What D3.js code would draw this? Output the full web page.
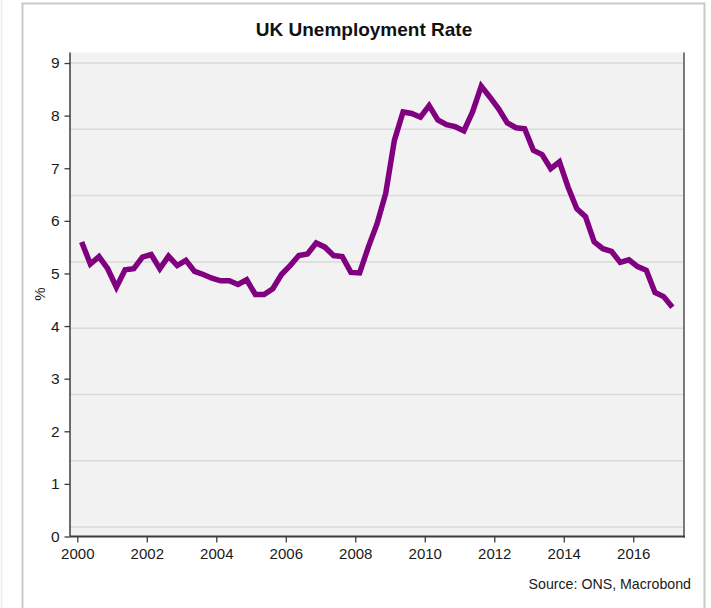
<!DOCTYPE html>
<html>
<head>
<meta charset="utf-8">
<script src="https://cdn.jsdelivr.net/npm/d3@7"></script>
<style>
  html, body { margin: 0; padding: 0; background: #fff; }
  svg { display: block; font-family: "Liberation Sans", Arial, sans-serif; }
</style>
</head>
<body>
<svg id="chart" width="711" height="608"></svg>
<script>
// ---- data ----
const title = "UK Unemployment Rate";
const source = "Source: ONS, Macrobond";
const yLabel = "%";
const quarters = [
  "2000Q1","2000Q2","2000Q3","2000Q4","2001Q1","2001Q2","2001Q3","2001Q4",
  "2002Q1","2002Q2","2002Q3","2002Q4","2003Q1","2003Q2","2003Q3","2003Q4",
  "2004Q1","2004Q2","2004Q3","2004Q4","2005Q1","2005Q2","2005Q3","2005Q4",
  "2006Q1","2006Q2","2006Q3","2006Q4","2007Q1","2007Q2","2007Q3","2007Q4",
  "2008Q1","2008Q2","2008Q3","2008Q4","2009Q1","2009Q2","2009Q3","2009Q4",
  "2010Q1","2010Q2","2010Q3","2010Q4","2011Q1","2011Q2","2011Q3","2011Q4",
  "2012Q1","2012Q2","2012Q3","2012Q4","2013Q1","2013Q2","2013Q3","2013Q4",
  "2014Q1","2014Q2","2014Q3","2014Q4","2015Q1","2015Q2","2015Q3","2015Q4",
  "2016Q1","2016Q2","2016Q3","2016Q4","2017Q1"
];
const unemployment = [
  5.60, 5.18, 5.32, 5.09, 4.74, 5.07, 5.09, 5.31,
  5.36, 5.09, 5.33, 5.15, 5.25, 5.04, 4.98, 4.91,
  4.86, 4.86, 4.79, 4.88, 4.60, 4.60, 4.71, 4.98,
  5.15, 5.34, 5.37, 5.58, 5.50, 5.34, 5.32, 5.02,
  5.01, 5.50, 5.94, 6.52, 7.53, 8.07, 8.04, 7.97,
  8.19, 7.92, 7.83, 7.79, 7.71, 8.07, 8.56, 8.35,
  8.13, 7.86, 7.77, 7.75, 7.34, 7.26, 6.99, 7.12,
  6.64, 6.23, 6.08, 5.60, 5.47, 5.42, 5.21, 5.26,
  5.13, 5.06, 4.64, 4.56, 4.36
];
const yTicks = [0, 1, 2, 3, 4, 5, 6, 7, 8, 9];
const xTicks = [2000, 2002, 2004, 2006, 2008, 2010, 2012, 2014, 2016];
const gridValues = [9, 7.74, 6.48, 5.22, 3.96, 2.70, 1.44, 0.18];

// ---- layout ----
const W = 711, H = 608;
const plot = { left: 70, right: 684, top: 52.5, bottom: 536.5 };

const svg = d3.select("#chart");

// outer frame
svg.append("line").attr("x1", 1.5).attr("x2", 1.5).attr("y1", 0).attr("y2", H)
  .attr("stroke", "#ececec").attr("stroke-width", 1.5);
svg.append("path")
  .attr("d", `M22.5,${H + 5} V3.5 H704.5 V${H + 5}`)
  .attr("fill", "none").attr("stroke", "#cacaca").attr("stroke-width", 2);

// scales
const toYear = q => +q.slice(0, 4) + (+q.slice(5) - 1) * 0.25 + 0.125;
const x = d3.scaleLinear().domain([1999.79, 2017.46]).range([plot.left, plot.right]);
const y = d3.scaleLinear().domain([0, 9.2]).range([plot.bottom, plot.top]);

// plot background
svg.append("rect")
  .attr("x", plot.left).attr("y", plot.top)
  .attr("width", plot.right - plot.left).attr("height", plot.bottom - plot.top)
  .attr("fill", "#f2f2f2");

// gridlines
svg.append("g").selectAll("line").data(gridValues).join("line")
  .attr("x1", plot.left).attr("x2", plot.right)
  .attr("y1", d => y(d)).attr("y2", d => y(d))
  .attr("stroke", "#d9d9d9").attr("stroke-width", 1.5);

// right border
svg.append("line").attr("x1", plot.right).attr("x2", plot.right)
  .attr("y1", plot.top).attr("y2", plot.bottom + 1)
  .attr("stroke", "#7a7a7a").attr("stroke-width", 2);

// y axis
const yAxis = svg.append("g").attr("transform", `translate(${plot.left},0)`)
  .call(d3.axisLeft(y).tickValues(yTicks).tickSize(5.5).tickPadding(5).tickFormat(d3.format("d")));
yAxis.select(".domain").attr("stroke", "#3c3c3c").attr("stroke-width", 1.5)
  .attr("d", `M0,${plot.top}V${plot.bottom}`);
yAxis.selectAll(".tick line").attr("stroke", "#3c3c3c").attr("stroke-width", 1.3);
yAxis.selectAll(".tick text").attr("font-size", 15.5).attr("fill", "#1a1a1a")
  .attr("font-family", "Liberation Sans, Arial, sans-serif");

// x axis
const xAxis = svg.append("g").attr("transform", `translate(0,${plot.bottom})`)
  .call(d3.axisBottom(x).tickValues(xTicks).tickSize(6).tickPadding(6).tickFormat(d3.format("d")));
xAxis.select(".domain").attr("stroke", "#3c3c3c").attr("stroke-width", 2)
  .attr("d", `M${plot.left},0H${plot.right + 1}`);
xAxis.selectAll(".tick line").attr("stroke", "#3c3c3c").attr("stroke-width", 1.3);
xAxis.selectAll(".tick text").attr("font-size", 15).attr("fill", "#1a1a1a")
  .attr("font-family", "Liberation Sans, Arial, sans-serif");

// line
const line = d3.line().x((d, i) => x(toYear(quarters[i]))).y(d => y(d)).curve(d3.curveLinear);
svg.append("path").datum(unemployment)
  .attr("d", line)
  .attr("fill", "none").attr("stroke", "#800080")
  .attr("stroke-width", 5.5).attr("stroke-linejoin", "miter").attr("stroke-miterlimit", 3);

// title
svg.append("text").attr("x", 364).attr("y", 36)
  .attr("text-anchor", "middle").attr("font-weight", "bold")
  .attr("font-size", 19).attr("fill", "#111").text(title);

// y label
svg.append("text").attr("transform", "translate(45,294) rotate(-90)")
  .attr("text-anchor", "middle").attr("font-size", 15).attr("fill", "#1a1a1a").text(yLabel);

// source
svg.append("text").attr("x", 691).attr("y", 589)
  .attr("text-anchor", "end").attr("font-size", 14.2).attr("fill", "#1a1a1a").text(source);
</script>
</body>
</html>
